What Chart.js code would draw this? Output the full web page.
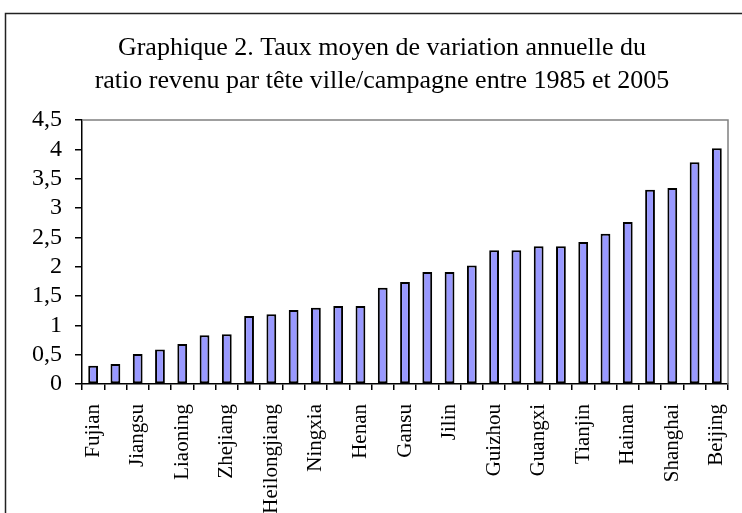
<!DOCTYPE html>
<html><head><meta charset="utf-8">
<script src="https://cdn.jsdelivr.net/npm/chart.js@4/dist/chart.umd.min.js"></script>
<style>html,body{margin:0;padding:0;background:#fff;overflow:hidden}canvas{display:block}</style>
</head><body>
<canvas id="c" width="742" height="513"></canvas>
<script>
const categories = ["Fujian","","Jiangsu","","Liaoning","","Zhejiang","","Heilongjiang","","Ningxia","","Henan","","Gansu","","Jilin","","Guizhou","","Guangxi","","Tianjin","","Hainan","","Shanghai","","Beijing"];
const values = [0.31,0.34,0.51,0.59,0.68,0.83,0.85,1.16,1.19,1.26,1.30,1.33,1.33,1.64,1.74,1.91,1.91,2.02,2.28,2.28,2.35,2.35,2.42,2.56,2.76,3.31,3.34,3.78,4.02];
const titleLines = ["Graphique 2. Taux moyen de variation annuelle du","ratio revenu par tête ville/campagne entre 1985 et 2005"];
const yMin = 0, yMax = 4.5, yStep = 0.5;

const framePlugin = {
  id: 'frame',
  afterLayout(chart) {
    if (chart.titleBlock) chart.titleBlock.left += 36;
  },
  beforeDraw(chart) {
    const ctx = chart.ctx;
    ctx.save();
    ctx.fillStyle = '#fff';
    ctx.fillRect(0, 0, chart.width, chart.height);
    ctx.restore();
  },
  afterDraw(chart) {
    const ctx = chart.ctx, a = chart.chartArea;
    ctx.save();
    ctx.strokeStyle = '#808080';
    ctx.lineWidth = 1.5;
    ctx.beginPath();
    ctx.moveTo(a.left, a.top);
    ctx.lineTo(a.right, a.top);
    ctx.lineTo(a.right, a.bottom);
    ctx.stroke();
    ctx.strokeStyle = '#222';
    ctx.lineWidth = 1.5;
    ctx.strokeRect(5.5, 13.5, 900, 700);
    ctx.restore();
  }
};

new Chart(document.getElementById('c'), {
  type: 'bar',
  data: {
    labels: categories,
    datasets: [{
      data: values,
      backgroundColor: '#9999FF',
      borderColor: '#000',
      borderWidth: 2,
      borderSkipped: false,
      categoryPercentage: 1,
      barPercentage: 0.44
    }]
  },
  options: {
    responsive: false,
    animation: false,
    devicePixelRatio: 1,
    layout: { padding: { left: 0, right: 14, top: 0, bottom: 0 } },
    plugins: {
      legend: { display: false },
      tooltip: { enabled: false },
      title: {
        display: true,
        text: titleLines,
        color: '#000',
        font: { family: 'Liberation Serif', size: 26, weight: 'normal', lineHeight: 1.27 },
        padding: { top: 32, bottom: 22 }
      }
    },
    scales: {
      x: {
        type: 'category',
        offset: true,
        grid: { display: true, offset: true, drawOnChartArea: false, tickLength: 6, color: '#000', lineWidth: 1.5 },
        border: { display: true, color: '#000', width: 1.5 },
        ticks: {
          autoSkip: false,
          maxRotation: 90, minRotation: 90,
          padding: 14,
          color: '#000',
          font: { family: 'Liberation Serif', size: 21 }
        },
        afterFit(scale) { scale.height = 129; scale.paddingRight = 0; scale.paddingLeft = 0; }
      },
      y: {
        min: yMin, max: yMax,
        grid: { display: true, drawOnChartArea: false, tickLength: 7, color: '#000', lineWidth: 1.5 },
        border: { display: true, color: '#000', width: 1.5 },
        ticks: {
          autoSkip: false,
          stepSize: yStep,
          padding: 13,
          color: '#000',
          font: { family: 'Liberation Serif', size: 24, lineHeight: 1 },
          callback: v => String(v).replace('.', ',')
        },
        afterFit(scale) { scale.width = 82; }
      }
    }
  },
  plugins: [framePlugin]
});
</script>
</body></html>
